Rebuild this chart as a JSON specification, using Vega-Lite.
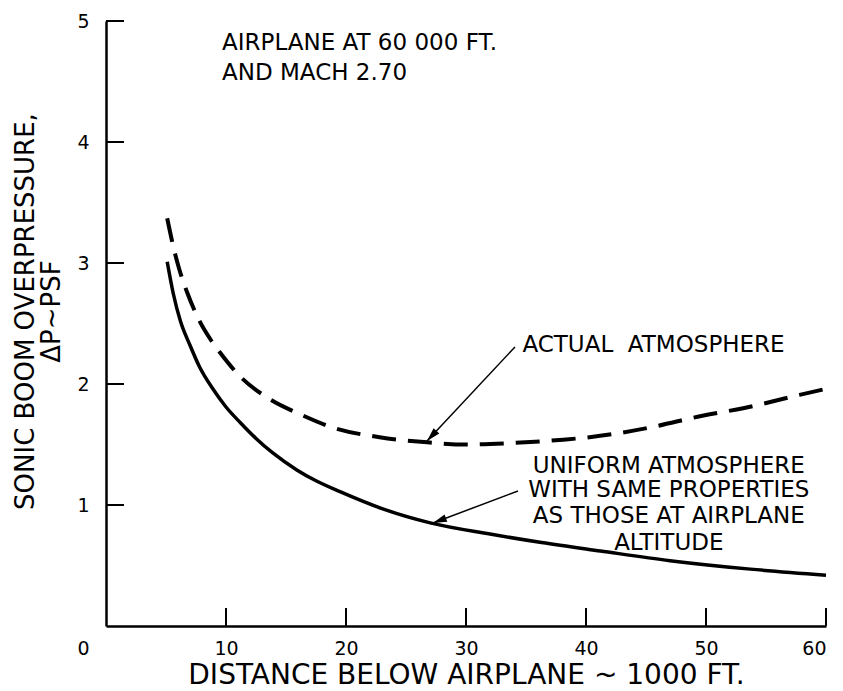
{
  "$schema": "https://vega.github.io/schema/vega-lite/v6.json",
  "width": 720,
  "height": 605,
  "autosize": {"type": "none"},
  "padding": {"left": 106, "top": 21, "right": 17, "bottom": 65},
  "background": "white",
  "config": {
    "view": {"stroke": null},
    "font": "DejaVu Sans",
    "axis": {
      "grid": false,
      "domainColor": "black",
      "domainWidth": 2.5,
      "labelColor": "black",
      "labelFontSize": 19,
      "titleColor": "black",
      "titleFontWeight": "normal"
    }
  },
  "datasets": {
    "actual": [
      {"d": 5.1, "p": 3.37}, {"d": 5.6, "p": 3.14}, {"d": 6.1, "p": 2.95}, {"d": 6.75, "p": 2.76},
      {"d": 7.8, "p": 2.52}, {"d": 8.7, "p": 2.37}, {"d": 9.5, "p": 2.26}, {"d": 11.2, "p": 2.06},
      {"d": 13.4, "p": 1.89}, {"d": 16.4, "p": 1.74}, {"d": 18.9, "p": 1.64}, {"d": 22.8, "p": 1.56},
      {"d": 26.5, "p": 1.52}, {"d": 30, "p": 1.5}, {"d": 33.4, "p": 1.51}, {"d": 38.1, "p": 1.54},
      {"d": 40.3, "p": 1.56}, {"d": 45.3, "p": 1.64}, {"d": 49.8, "p": 1.74}, {"d": 53.1, "p": 1.8},
      {"d": 57.8, "p": 1.91}, {"d": 60, "p": 1.96}
    ],
    "uniform": [
      {"d": 5.1, "p": 3.01}, {"d": 5.6, "p": 2.75}, {"d": 6.2, "p": 2.52}, {"d": 7.0, "p": 2.32},
      {"d": 7.8, "p": 2.14}, {"d": 8.9, "p": 1.96}, {"d": 10.0, "p": 1.81}, {"d": 11.2, "p": 1.68},
      {"d": 12.5, "p": 1.55}, {"d": 13.9, "p": 1.43}, {"d": 15.9, "p": 1.29}, {"d": 17.5, "p": 1.2},
      {"d": 19.5, "p": 1.11}, {"d": 23, "p": 0.97}, {"d": 27.1, "p": 0.85}, {"d": 32, "p": 0.76},
      {"d": 36.3, "p": 0.69}, {"d": 41.2, "p": 0.62}, {"d": 47, "p": 0.54}, {"d": 53.7, "p": 0.47},
      {"d": 60, "p": 0.42}
    ],
    "xticks": [{"v": 10}, {"v": 20}, {"v": 30}, {"v": 40}, {"v": 50}, {"v": 60}],
    "yticks": [{"v": 1}, {"v": 2}, {"v": 3}, {"v": 4}, {"v": 5}],
    "notesLeft": [
      {"d": 9.67, "p": 4.82, "t": "AIRPLANE AT 60 000 FT."},
      {"d": 9.67, "p": 4.57, "t": "AND MACH 2.70"},
      {"d": 34.7, "p": 2.32, "t": "ACTUAL\u00a0\u00a0ATMOSPHERE"}
    ],
    "notesCenter": [
      {"d": 46.9, "p": 1.32, "t": "UNIFORM ATMOSPHERE"},
      {"d": 46.9, "p": 1.12, "t": "WITH SAME PROPERTIES"},
      {"d": 46.9, "p": 0.91, "t": "AS THOSE AT AIRPLANE"},
      {"d": 46.9, "p": 0.69, "t": "ALTITUDE"}
    ],
    "arrows": [
      {"d": 34.08, "p": 2.306, "d2": 26.75, "p2": 1.529, "ang": 223},
      {"d": 34.33, "p": 1.116, "d2": 27.25, "p2": 0.851, "ang": 249}
    ]
  },
  "resolve": {"axis": {"x": "independent", "y": "independent"}},
  "layer": [
    {
      "data": {"name": "actual"},
      "mark": {"type": "line", "interpolate": "monotone", "color": "black", "strokeWidth": 4, "strokeDash": [24, 12]},
      "encoding": {
        "x": {
          "field": "d", "type": "quantitative",
          "scale": {"domain": [0, 60], "nice": false, "zero": false},
          "axis": {
            "orient": "bottom",
            "values": [10, 20, 30, 40, 50, 60],
            "format": "d",
            "ticks": false,
            "labelPadding": 13,
            "title": "DISTANCE BELOW AIRPLANE ~ 1000 FT.",
            "titleFontSize": 28,
            "titlePadding": 3
          }
        },
        "y": {
          "field": "p", "type": "quantitative",
          "scale": {"domain": [0, 5], "nice": false, "zero": false},
          "axis": {
            "orient": "left",
            "values": [0, 1, 2, 3, 4, 5],
            "format": "d",
            "ticks": false,
            "labelPadding": 17,
            "labelOffset": {"condition": {"test": "datum.value == 0", "value": 22}, "value": 0},
            "title": ["SONIC BOOM OVERPRESSURE,", "ΔP~PSF"],
            "titleFontSize": 26,
            "titleLineHeight": 26,
            "titleX": -68,
            "titleY": 290
          }
        }
      }
    },
    {
      "data": {"name": "uniform"},
      "mark": {"type": "line", "interpolate": "monotone", "color": "black", "strokeWidth": 3.5},
      "encoding": {
        "x": {"field": "d", "type": "quantitative", "axis": null},
        "y": {"field": "p", "type": "quantitative", "axis": null}
      }
    },
    {
      "data": {"name": "xticks"},
      "mark": {"type": "tick", "orient": "vertical", "color": "black", "size": 18, "thickness": 2, "opacity": 1, "yOffset": -9},
      "encoding": {
        "x": {"field": "v", "type": "quantitative", "axis": null},
        "y": {"datum": 0, "type": "quantitative", "axis": null}
      }
    },
    {
      "data": {"name": "yticks"},
      "mark": {"type": "tick", "orient": "horizontal", "color": "black", "size": 18, "thickness": 2, "opacity": 1, "xOffset": 9},
      "encoding": {
        "y": {"field": "v", "type": "quantitative", "axis": null},
        "x": {"datum": 0, "type": "quantitative", "axis": null}
      }
    },
    {
      "data": {"name": "arrows"},
      "mark": {"type": "rule", "color": "black", "strokeWidth": 1.5},
      "encoding": {
        "x": {"field": "d", "type": "quantitative", "axis": null},
        "y": {"field": "p", "type": "quantitative", "axis": null},
        "x2": {"field": "d2"},
        "y2": {"field": "p2"}
      }
    },
    {
      "data": {"name": "arrows"},
      "mark": {"type": "point", "filled": true, "color": "black", "opacity": 1, "shape": "M0,0L-0.45,1.6L0.45,1.6Z", "size": 300},
      "encoding": {
        "x": {"field": "d2", "type": "quantitative", "axis": null},
        "y": {"field": "p2", "type": "quantitative", "axis": null},
        "angle": {"field": "ang", "type": "quantitative", "scale": null}
      }
    },
    {
      "data": {"name": "notesLeft"},
      "mark": {"type": "text", "fontSize": 23, "color": "black", "baseline": "middle", "align": "left"},
      "encoding": {
        "x": {"field": "d", "type": "quantitative", "axis": null},
        "y": {"field": "p", "type": "quantitative", "axis": null},
        "text": {"field": "t"}
      }
    },
    {
      "data": {"name": "notesCenter"},
      "mark": {"type": "text", "fontSize": 23, "color": "black", "baseline": "middle", "align": "center"},
      "encoding": {
        "x": {"field": "d", "type": "quantitative", "axis": null},
        "y": {"field": "p", "type": "quantitative", "axis": null},
        "text": {"field": "t"}
      }
    }
  ]
}
